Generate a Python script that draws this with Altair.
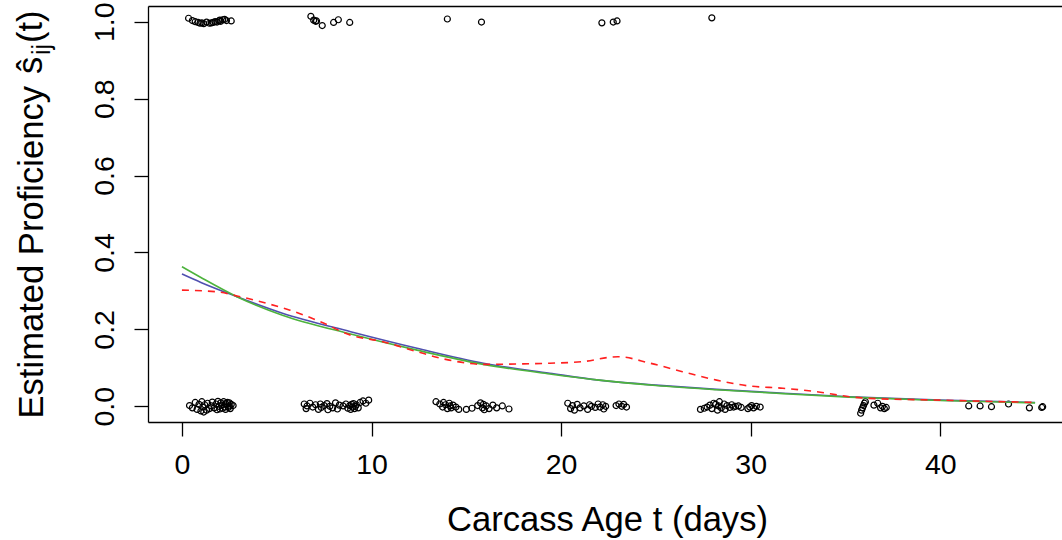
import altair as alt
import pandas as pd

FONT = "Liberation Sans, Arial, DejaVu Sans"

# ---- observed outcomes (jittered) : value ~1 ----
top_x = [0.35, 0.55, 0.7, 0.85, 0.95, 1.05, 1.15, 1.3, 1.45, 1.55, 1.65, 1.75, 1.85, 1.95, 2.0, 2.05,
         2.15, 2.25, 2.35, 2.6, 6.8, 6.95, 7.05, 7.1, 7.4, 8.0, 8.25, 8.85, 14.0, 15.8, 22.15, 22.75,
         22.95, 27.95]
top_y = [1.009, 1.003, 1.000, 0.998, 0.996, 0.997, 0.995, 0.999, 0.996, 0.997, 0.998, 1.000, 0.999,
         1.002, 1.004, 1.001, 1.005, 1.006, 1.003, 1.002, 1.014, 1.004, 1.001, 1.002, 0.990, 0.998,
         1.005, 0.998, 1.007, 0.999, 0.997, 0.999, 1.002, 1.010]

# ---- observed outcomes (jittered) : value ~0, by age cluster ----
xA = [0.4, 0.55, 0.7, 0.8, 0.9, 1.0, 1.05, 1.1, 1.15, 1.2, 1.3, 1.35, 1.45, 1.55, 1.6, 1.7, 1.8, 1.85,
      1.9, 1.95, 2.0, 2.05, 2.1, 2.15, 2.2, 2.25, 2.3, 2.3, 2.35, 2.4, 2.45, 2.5, 2.5, 2.55, 2.6, 2.7]
yA = [0.002, -0.004, 0.010, -0.008, 0.005, -0.012, 0.012, -0.002, -0.015, 0.004, -0.010, 0.008,
      -0.006, 0.001, 0.011, -0.004, 0.006, -0.009, 0.013, 0.000, -0.007, 0.009, 0.003, -0.005, 0.012,
      -0.002, 0.007, -0.008, 0.004, 0.010, -0.003, 0.001, 0.009, -0.006, 0.005, 0.002]
xB = [6.45, 6.55, 6.6, 6.75, 6.9, 7.05, 7.2, 7.3, 7.35, 7.5, 7.65, 7.7, 7.8, 7.95, 8.1, 8.2, 8.3, 8.5,
      8.65, 8.75, 8.85, 8.9, 8.95, 9.0, 9.05, 9.1, 9.15, 9.2, 9.3, 9.4, 9.55, 9.7, 9.85]
yB = [0.006, -0.006, 0.001, 0.008, -0.002, 0.004, -0.008, 0.006, -0.003, 0.002, 0.007, -0.009, 0.000,
      -0.004, 0.009, -0.007, 0.003, 0.001, 0.006, -0.005, 0.002, -0.008, 0.005, -0.002, 0.007, -0.006,
      0.000, 0.004, -0.004, 0.010, 0.014, 0.008, 0.016]
xC = [13.4, 13.6, 13.75, 13.8, 13.9, 14.0, 14.1, 14.15, 14.2, 14.3, 14.45, 14.6, 15.0, 15.3, 15.6,
      15.75, 15.85, 15.9, 15.95, 16.05, 16.2, 16.4, 16.6, 16.9, 17.25]
yC = [0.012, 0.006, -0.002, 0.010, 0.004, -0.006, 0.008, 0.001, -0.004, 0.003, -0.002, -0.008, -0.008,
      -0.005, 0.002, 0.009, -0.004, 0.005, -0.009, 0.001, -0.006, 0.003, -0.004, 0.001, -0.007]
xD = [20.35, 20.5, 20.6, 20.7, 20.85, 21.0, 21.2, 21.4, 21.5, 21.6, 21.8, 21.95, 22.05, 22.2, 22.25,
      22.35, 22.9, 23.05, 23.2, 23.3, 23.45]
yD = [0.008, -0.006, 0.002, -0.010, 0.005, -0.004, 0.001, -0.008, 0.004, 0.000, -0.003, 0.006, -0.002,
      0.004, -0.007, 0.000, 0.002, 0.006, 0.000, 0.005, -0.002]
xE = [27.35, 27.55, 27.7, 27.85, 27.95, 28.05, 28.15, 28.25, 28.3, 28.35, 28.45, 28.6, 28.65, 28.75,
      28.9, 29.0, 29.1, 29.2, 29.35, 29.5, 29.85, 29.95, 30.05, 30.15, 30.3, 30.5]
yE = [-0.008, -0.005, -0.002, 0.003, -0.006, 0.008, 0.005, -0.010, 0.001, 0.012, -0.004, 0.006, -0.008,
      0.002, -0.003, 0.004, -0.002, 0.000, 0.001, -0.003, -0.006, -0.002, 0.002, -0.004, 0.000, -0.002]
xF = [35.8, 35.85, 35.9, 35.95, 36.0, 36.05, 36.5, 36.7, 36.85, 36.95, 37.05, 37.15]
yF = [-0.018, -0.010, -0.004, 0.002, 0.008, 0.012, 0.003, 0.008, -0.004, 0.000, -0.006, -0.003]
xG = [41.5, 42.1, 42.7, 43.6, 44.7, 45.35, 45.4]
yG = [0.001, 0.001, -0.001, 0.006, -0.004, -0.003, -0.001]

# ---- fitted curves ----
fit_days = [0, 1.0, 2.9, 5.3, 8.9, 12.4, 15.9, 19.4, 22.0, 25.0, 28.2, 31.7, 35.2, 40.0, 45.0]
blue_fit = [0.344, 0.322, 0.285, 0.242, 0.194, 0.151, 0.112, 0.086, 0.068, 0.055, 0.044, 0.034, 0.025,
            0.016, 0.010]
green_fit = [0.363, 0.335, 0.285, 0.237, 0.188, 0.146, 0.109, 0.084, 0.068, 0.054, 0.043, 0.033, 0.024,
             0.015, 0.009]
red_days = [0, 1.8, 2.9, 4.45, 5.7, 7.3, 8.9, 10.6, 12.4, 14.1, 15.9, 17.6, 19.4, 21.1, 23.0, 24.7,
            26.4, 28.2, 29.9, 31.7, 33.5, 35.2, 36.1, 40.0, 45.0]
red_fit = [0.302, 0.298, 0.287, 0.268, 0.250, 0.220, 0.185, 0.168, 0.142, 0.120, 0.109, 0.110, 0.112,
           0.116, 0.129, 0.112, 0.090, 0.068, 0.053, 0.047, 0.038, 0.025, 0.021, 0.016, 0.010]

x_ticks = [0, 10, 20, 30, 40]
y_ticks = [0.0, 0.2, 0.4, 0.6, 0.8, 1.0]

# y-axis title pieces (plain text + s-hat, subscript ij, argument)
ylab_main = "Estimated Proficiency"
ylab_sym = ["ŝ"]
ylab_sub = ["ij"]
ylab_arg = ["(t)"]

# ---- tables ----
px = top_x + xA + xB + xC + xD + xE + xF + xG
py = top_y + yA + yB + yC + yD + yE + yF + yG
pts = pd.DataFrame({"t": px, "s": py})
blue_df = pd.DataFrame({"t": fit_days, "s": blue_fit})
green_df = pd.DataFrame({"t": fit_days, "s": green_fit})
red_df = pd.DataFrame({"t": red_days, "s": red_fit})

W, H = 914, 416
TITLE_SIZE = 34.6
xscale = alt.Scale(domain=[-1.79, 46.42], nice=False, zero=False)
yscale = alt.Scale(domain=[-0.0408, 1.0408], nice=False, zero=False)

x_axis = alt.Axis(values=x_ticks, orient="bottom", grid=False, domain=True, domainColor="black",
                  domainWidth=1.3, ticks=True, tickColor="black", tickWidth=1.3, tickSize=14,
                  labelFont=FONT, labelFontSize=28.5, labelColor="black", labelBaseline="alphabetic",
                  labelPadding=37, labelFlush=False, labelOverlap=False,
                  title="Carcass Age t (days)", titleFont=FONT, titleFontSize=TITLE_SIZE,
                  titleFontWeight="normal", titleColor="black", titleX=459, titleY=108.3,
                  titleBaseline="alphabetic", titleAlign="center")
y_axis = alt.Axis(values=y_ticks, format=".1f", orient="left", grid=False, domain=True,
                  domainColor="black", domainWidth=1.3, ticks=True, tickColor="black", tickWidth=1.3,
                  tickSize=14, labelFont=FONT, labelFontSize=28.5, labelColor="black", labelAngle=270,
                  labelAlign="center", labelBaseline="alphabetic", labelPadding=20.7,
                  labelFlush=False, labelOverlap=False,
                  title=ylab_main, titleFont=FONT, titleFontSize=TITLE_SIZE,
                  titleFontWeight="normal", titleColor="black", titleAngle=270, titleX=-106,
                  titleY=412, titleBaseline="alphabetic", titleAlign="left")
top_axis = alt.Axis(orient="top", labels=False, ticks=False, title=None, grid=False, domain=True,
                    domainColor="black", domainWidth=1.3)

points = alt.Chart(pts).mark_point(shape="circle", filled=False, size=36, strokeWidth=1.2,
                                    color="black", opacity=1).encode(
    x=alt.X("t:Q", scale=xscale, axis=x_axis),
    y=alt.Y("s:Q", scale=yscale, axis=y_axis),
)

blue = alt.Chart(blue_df).mark_line(interpolate="monotone", strokeWidth=1.6, color="#5050b0").encode(
    x=alt.X("t:Q", scale=xscale, axis=top_axis),
    y=alt.Y("s:Q", scale=yscale, axis=None),
)
green = alt.Chart(green_df).mark_line(interpolate="monotone", strokeWidth=1.6, color="#4db33d").encode(
    x=alt.X("t:Q", scale=xscale, axis=None),
    y=alt.Y("s:Q", scale=yscale, axis=None),
)
red = alt.Chart(red_df).mark_line(interpolate="monotone", strokeWidth=1.6, color="#ff2020",
                                  strokeDash=[7, 6]).encode(
    x=alt.X("t:Q", scale=xscale, axis=None),
    y=alt.Y("s:Q", scale=yscale, axis=None),
)


def ylab_piece(texts, xpos, ypos, size):
    return alt.Chart(pd.DataFrame({"lab": texts})).mark_text(
        angle=270, align="left", baseline="alphabetic", font=FONT, fontSize=size, color="black"
    ).encode(x=alt.value(xpos), y=alt.value(ypos), text="lab:N")


sym = ylab_piece(ylab_sym, -106, 68, TITLE_SIZE)
sub = ylab_piece(ylab_sub, -98, 49, 25)
arg = ylab_piece(ylab_arg, -106, 37, TITLE_SIZE)

chart = alt.layer(points, blue, green, red, sym, sub, arg).resolve_axis(
    x="independent", y="independent"
).properties(
    width=W, height=H,
    autosize=alt.AutoSizeParams(type="none"),
    padding={"left": 148, "top": 6, "right": 0, "bottom": 118},
    background="white",
).configure_view(stroke=None)

chart.save("out.html", embed_options={"renderer": "svg", "actions": False})
